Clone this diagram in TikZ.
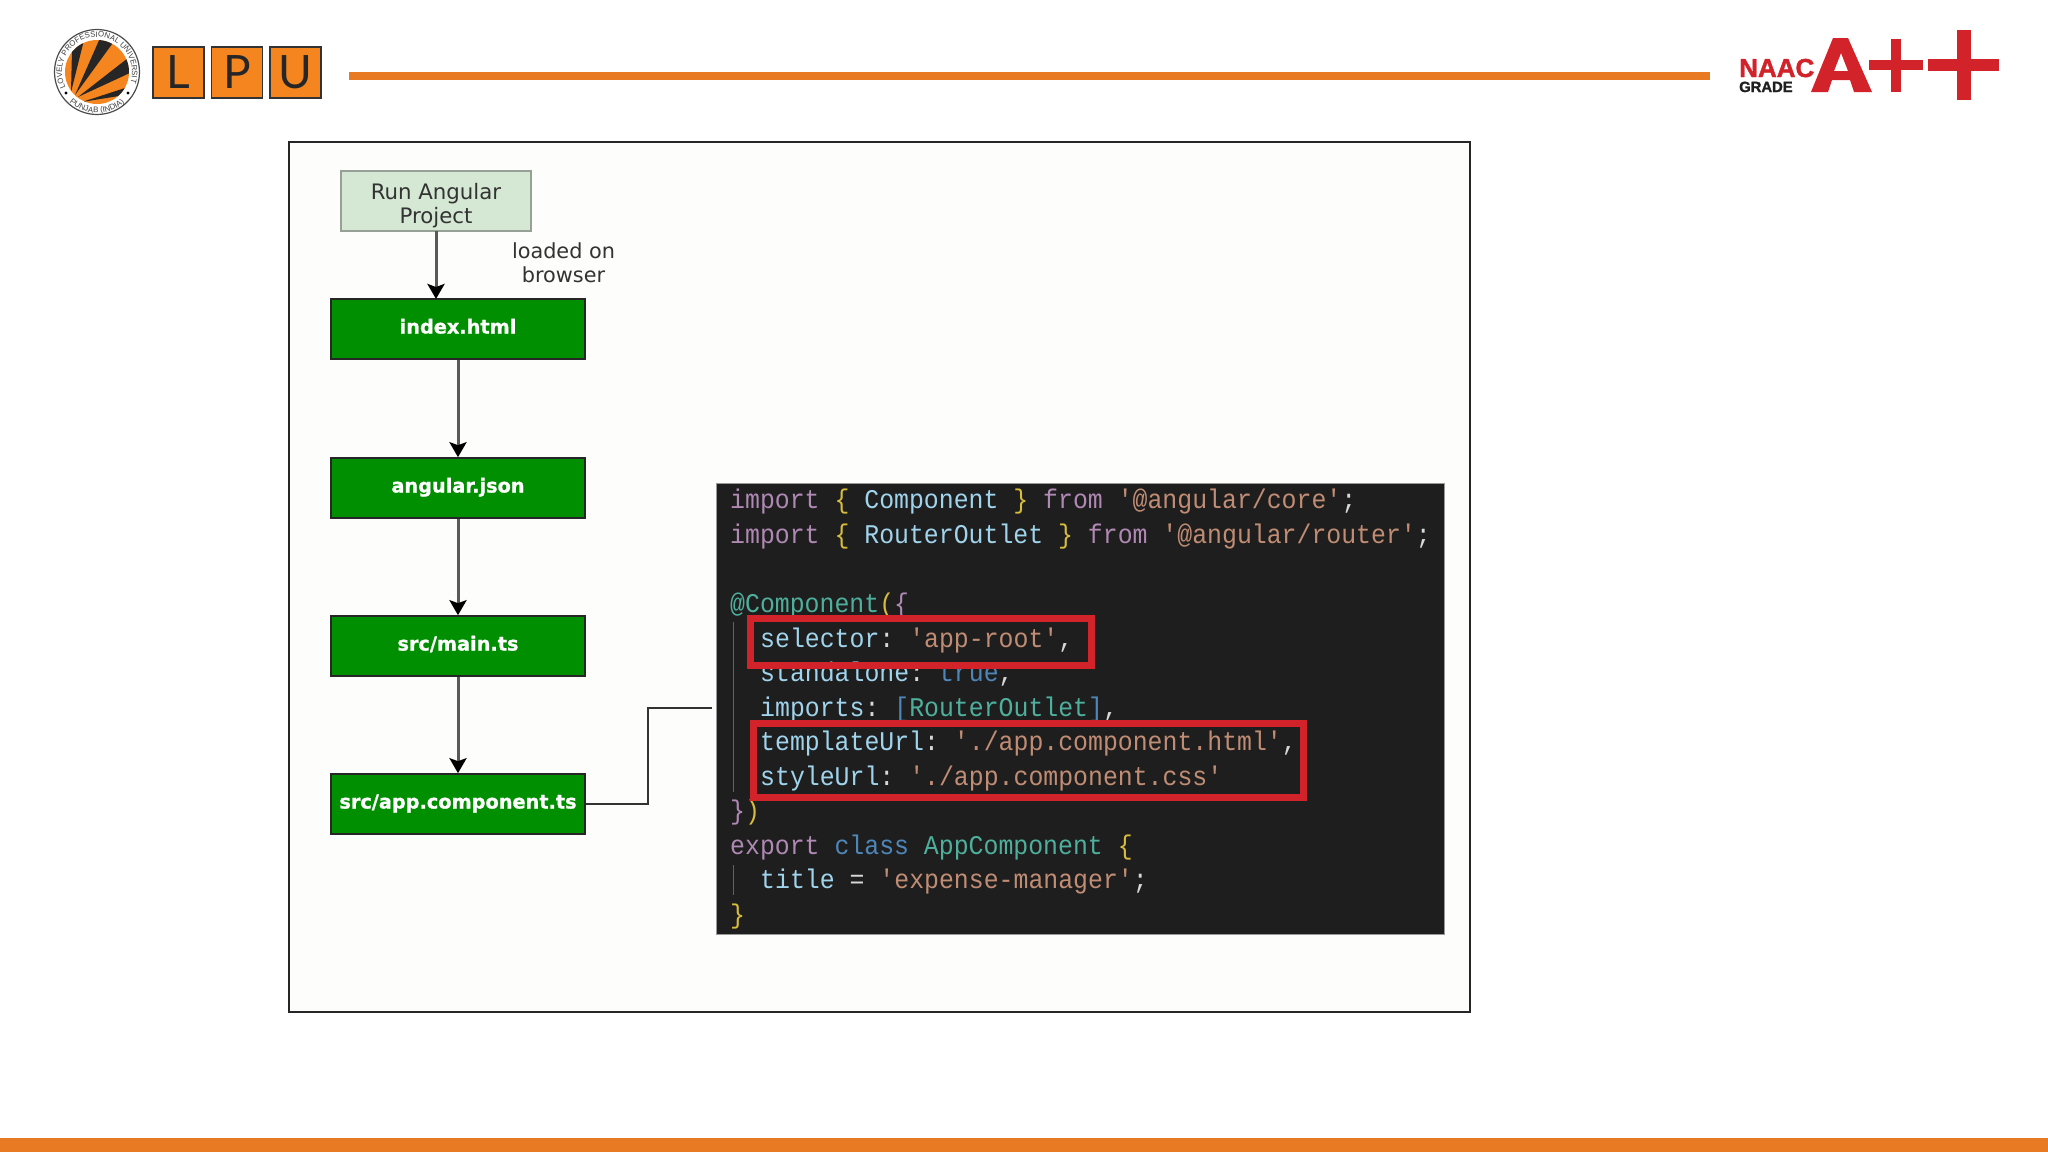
\documentclass[tikz,border=0pt]{standalone}
\usepackage{fontspec}
\setmainfont{DejaVu Sans}
\setmonofont[FakeStretch=0.92]{Liberation Mono}
\newfontfamily\logofont{Liberation Sans}
\newfontfamily\naacfont[BoldFeatures={FakeBold=1.5}]{Liberation Sans}
\newfontfamily\flowfont[BoldFeatures={FakeBold=1}]{DejaVu Sans}
\newfontfamily\lpufont{Lato}
\usetikzlibrary{arrows.meta,decorations.text}
\definecolor{lpuorange}{HTML}{F5861F}
\definecolor{barorange}{HTML}{E87A24}
\definecolor{naacred}{HTML}{D2232A}
\definecolor{flowgreen}{HTML}{008F00}
\definecolor{palegreen}{HTML}{D5E8D4}
\definecolor{codebg}{HTML}{1E1E1E}
\definecolor{framebg}{HTML}{FDFDFB}
\definecolor{kw}{HTML}{B088B4}
\definecolor{ident}{HTML}{A0D4EC}
\definecolor{str}{HTML}{C08C74}
\definecolor{brace}{HTML}{D8BC3C}
\definecolor{typ}{HTML}{4EB09C}
\definecolor{blu}{HTML}{4F86B8}
\definecolor{pnc}{HTML}{D8D8D8}
\newcommand{\kw}[1]{\textcolor{kw}{#1}}
\newcommand{\idn}[1]{\textcolor{ident}{#1}}
\newcommand{\str}[1]{\textcolor{str}{#1}}
\newcommand{\brc}[1]{\textcolor{brace}{#1}}
\newcommand{\typ}[1]{\textcolor{typ}{#1}}
\newcommand{\blu}[1]{\textcolor{blu}{#1}}
\newcommand{\pnc}[1]{\textcolor{pnc}{#1}}
\tikzset{
  flowbox/.style={draw=black!85,fill=flowgreen,line width=1.6pt,minimum width=254pt,minimum height=60pt,inner sep=0pt,
    text=white,text height=14pt,text depth=5pt,font=\flowfont\fontsize{19.3}{19}\selectfont\bfseries},
  flowarrow/.style={draw=black!65,line width=3pt,-{Stealth[length=15pt,width=17pt,inset=3pt,color=black]}},
  codeline/.style={anchor=base west,inner sep=0pt,font=\ttfamily\fontsize{27}{27}\selectfont,text=pnc},
  redbox/.style={draw=naacred,line width=7pt},
  lpubox/.style={draw=black!80,fill=lpuorange,line width=1.2pt,minimum width=51pt,minimum height=51pt,inner sep=0pt,
    font=\lpufont\fontsize{46}{46}\selectfont,text=black!85},
  guide/.style={draw=white!30!codebg,line width=1pt}
}
\begin{document}
\begin{tikzpicture}[x=1pt,y=-1pt]
\useasboundingbox (0,0) rectangle (2048,1152);
\fill[white] (0,0) rectangle (2048,1152);
% header and footer
\fill[barorange] (349,72) rectangle (1710,80);
\fill[barorange] (0,1138) rectangle (2048,1152);
% LPU logo
\draw[black!70,line width=1.2pt,fill=white] (97,72) circle (42.5);
\fill[lpuorange] (97,72) circle (32);
\begin{scope}
\clip (97,72) circle (32);
\fill[black!85] (71,92)--(72,50)--(84,40)--cycle;
\fill[black!85] (75,95)--(100,38)--(115,40)--cycle;
\fill[black!85] (78,97)--(128,58)--(132,72)--cycle;
\fill[black!85] (82,102)--(125,88)--(125,95)--cycle;
\end{scope}
\fill[black] (66,93) circle (1.6);
\fill[black] (128,93) circle (1.6);
\path[decorate,decoration={text along path,text align={center},text color=black!75,
  text format delimiters={|}{|},
  text={|\logofont\fontsize{7.8}{8}\selectfont|LOVELY PROFESSIONAL UNIVERSITY}}]
  (97,72) ++(-195:35) arc[start angle=-195,end angle=15,radius=35];
\path[decorate,decoration={text along path,text align={center},text color=black!75,
  text format delimiters={|}{|},
  text={|\logofont\fontsize{8}{8}\selectfont|PUNJAB (INDIA)}}]
  (97,72) ++(-220:41) arc[start angle=-220,end angle=-320,radius=41];
\node[lpubox] (lpuL) at (178.5,72.5) {L};
\node[lpubox] (lpuP) at (237,72.5) {P};
\node[lpubox] (lpuU) at (295.5,72.5) {U};
% NAAC logo
\node[anchor=base west,inner sep=0pt,text=naacred,font=\naacfont\bfseries\fontsize{26}{26}\selectfont] (naac) at (1739,77) {NAAC};
\node[anchor=base west,inner sep=0pt,text=black!88,font=\naacfont\bfseries\fontsize{14.8}{15}\selectfont] (grade) at (1739,92) {GRADE};
\fill[naacred,even odd rule] (1811,92)--(1833,38)--(1848,38)--(1872,92)--(1854,92)--(1850,80)--(1832,80)--(1828,92)--cycle
  (1834,71)--(1841,53)--(1848,71)--cycle;
\fill[naacred] (1869,60) rectangle (1923,70);
\fill[naacred] (1891,39) rectangle (1901,92);
\fill[naacred] (1928,59) rectangle (1999,71);
\fill[naacred] (1957,30) rectangle (1971,100);
% frame
\draw[black!85,fill=framebg,line width=2pt] (289,142) rectangle (1470,1012);
% flow
\node[draw=black!25!palegreen!70!gray,fill=palegreen,line width=1.6pt,minimum width=190pt,minimum height=60pt,inner sep=0pt,
  align=center,text=black!80,font=\fontsize{21.3}{24}\selectfont] (run) at (436,201) {\rule{0pt}{26pt}Run Angular\\Project};
\node[flowbox] (index) at (458,329) {index.html};
\node[flowbox] (angular) at (458,488) {angular.json};
\node[flowbox] (mainfile) at (458,646) {src/main.ts};
\node[flowbox] (comp) at (458,804) {src/app.component.ts};
\node[align=center,inner sep=0pt,text=black!80,font=\fontsize{20.8}{24}\selectfont] (loaded) at (563.5,263) {loaded on\\browser};
\draw[flowarrow] (436,231) -- (436,299);
\draw[flowarrow] (index) -- (angular);
\draw[flowarrow] (angular) -- (mainfile);
\draw[flowarrow] (mainfile) -- (comp);
% code panel
\node[fill=codebg,draw=black!40,line width=1pt,minimum width=728pt,minimum height=451pt,anchor=north west,inner sep=0pt] (code) at (716,483) {};
\coordinate (codeend) at (712,708);
\draw[black!80,line width=2pt] (comp.east) -- (648,804) -- (648,708) -- (codeend);
\draw[guide] (733,622) -- (733,792);
\draw[guide] (733,865) -- (733,895);
\node[codeline] (l1) at (730,508) {\kw{import} \brc{\{} \idn{Component} \brc{\}} \kw{from} \str{'@angular/core'};};
\node[codeline] (l2) at (730,543) {\kw{import} \brc{\{} \idn{RouterOutlet} \brc{\}} \kw{from} \str{'@angular/router'};};
\node[codeline] (l3) at (730,612) {\typ{@Component}\brc{(}\kw{\{}};
\node[codeline] (l4) at (760,647) {\idn{selector}: \str{'app-root'},};
\node[codeline] (l5) at (760,681) {\idn{standalone}: \blu{true},};
\node[codeline] (l6) at (760,716) {\idn{imports}: \blu{[}\typ{RouterOutlet}\blu{]},};
\node[codeline] (l7) at (760,750) {\idn{templateUrl}: \str{'./app.component.html'},};
\node[codeline] (l8) at (760,785) {\idn{styleUrl}: \str{'./app.component.css'}};
\node[codeline] (l9) at (730,819) {\kw{\}}\brc{)}};
\node[codeline] (l10) at (730,854) {\kw{export} \blu{class} \typ{AppComponent} \brc{\{}};
\node[codeline] (l11) at (760,888) {\idn{title} = \str{'expense-manager'};};
\node[codeline] (l12) at (730,923) {\brc{\}}};
\draw[redbox] (750.5,618.5) rectangle (1091.5,665.5);
\draw[redbox] (753.5,723.5) rectangle (1303.5,797.5);
\end{tikzpicture}
\end{document}
